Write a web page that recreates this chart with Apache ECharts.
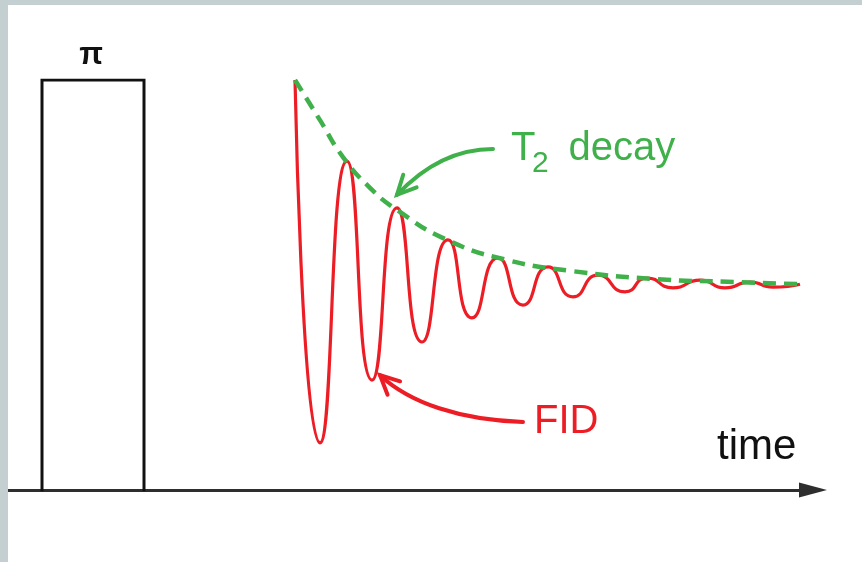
<!DOCTYPE html>
<html>
<head>
<meta charset="utf-8">
<script src="https://cdn.jsdelivr.net/npm/echarts@6/dist/echarts.min.js"></script>
<style>
  html, body { margin: 0; padding: 0; background: #c3cfd1; }
  #chart { position: absolute; left: 8px; top: 5px; width: 854px; height: 557px; background: #ffffff; }
</style>
</head>
<body>
<div id="chart"></div>
<script>
// Time in ms along the horizontal axis, signal normalised so the pulse height is 1.
const pulseTime = [0.68, 0.68, 2.72, 2.72];
const pulseLevel = [0, 1, 1, 0];

// FID trace: successive maxima and minima of the ringing signal.
const fidTime = [5.74, 6.24, 6.78, 7.28, 7.78, 8.28, 8.80, 9.28, 9.80, 10.30, 10.80,
                 11.30, 11.80, 12.34, 12.78, 13.30, 13.84, 14.34, 14.84, 15.30, 15.84];
const fidSignal = [1.0, 0.115, 0.802, 0.268, 0.688, 0.361, 0.610, 0.420, 0.566, 0.451, 0.544,
                   0.471, 0.524, 0.483, 0.517, 0.493, 0.512, 0.493, 0.507, 0.495, 0.502];

// T2 envelope over the FID peaks.
const decayTime = [5.74, 6.24, 6.70, 7.24, 7.78, 8.78, 9.98, 11.28, 12.88, 14.64, 15.84];
const decayEnvelope = [1.0, 0.902, 0.812, 0.737, 0.683, 0.610, 0.561, 0.534, 0.515, 0.507, 0.502];

const axisMax = 16.1;

const GREEN = '#3fb04a';
const RED = '#ec1d25';
const FONT = '"Liberation Sans", Arial, sans-serif';

const zip = (a, b) => a.map((v, i) => [v, b[i]]);

const chart = echarts.init(document.getElementById('chart'), null, { renderer: 'canvas' });

chart.setOption({
  animation: false,
  backgroundColor: '#ffffff',
  grid: { left: 0, right: 49, top: 75, bottom: 72, containLabel: false },
  xAxis: {
    type: 'value', min: 0, max: axisMax,
    axisLine: {
      show: true, onZero: true,
      symbol: ['none', 'triangle'], symbolSize: [15, 28],
      lineStyle: { color: '#2e2e2e', width: 3 }
    },
    axisTick: { show: false }, axisLabel: { show: false }, splitLine: { show: false }
  },
  yAxis: {
    type: 'value', min: 0, max: 1, show: false,
    splitLine: { show: false }
  },
  series: [
    {
      name: 'pulse', type: 'line', data: zip(pulseTime, pulseLevel),
      symbol: 'none', z: 3,
      lineStyle: { color: '#111111', width: 3, join: 'miter', cap: 'square' }
    },
    {
      name: 'FID', type: 'line', data: zip(fidTime, fidSignal),
      symbol: 'none', smooth: 0.6, z: 4,
      lineStyle: { color: RED, width: 3.2 }
    },
    {
      name: 'T2 decay', type: 'line', data: zip(decayTime, decayEnvelope),
      symbol: 'none', smooth: true, z: 5,
      lineStyle: { color: GREEN, width: 4.5, type: [13, 8] }
    }
  ]
});

// Annotation anchors in axis units (time, signal).
const labelPi = [1.66, 1.060];
const labelTime = [14.18, 0.103];
const labelFid = [10.52, 0.167];
const labelT = [10.06, 0.832];
const labelSub = [10.48, 0.795];
const labelDecay = [11.21, 0.832];

// Curved pointers: [start, control 1, control 2, tip]
const greenPointer = [[9.70, 0.832], [8.94, 0.832], [8.32, 0.790], [7.78, 0.720]];
const redPointer = [[10.30, 0.166], [9.04, 0.171], [8.04, 0.212], [7.44, 0.280]];

const px = p => chart.convertToPixel({ gridIndex: 0 }, p);

function pointer(pts, color) {
  const [s, c1, c2, t] = pts.map(px);
  const dx = c2[0] - t[0], dy = c2[1] - t[1];
  const len = Math.hypot(dx, dy);
  const ux = dx / len, uy = dy / len;
  const arm = 21, ang = 26 * Math.PI / 180;
  const rot = a => [t[0] + arm * (ux * Math.cos(a) - uy * Math.sin(a)),
                    t[1] + arm * (ux * Math.sin(a) + uy * Math.cos(a))];
  return [
    {
      type: 'bezierCurve', z: 10,
      shape: { x1: s[0], y1: s[1], cpx1: c1[0], cpy1: c1[1], cpx2: c2[0], cpy2: c2[1], x2: t[0], y2: t[1] },
      style: { stroke: color, lineWidth: 4, fill: null, lineCap: 'round' }
    },
    {
      type: 'polyline', z: 10,
      shape: { points: [rot(ang), t, rot(-ang)] },
      style: { stroke: color, lineWidth: 4, fill: null, lineCap: 'round', lineJoin: 'miter' }
    }
  ];
}

function text(anchor, str, size, color, align, weight) {
  const p = px(anchor);
  return {
    type: 'text', z: 12, x: p[0], y: p[1],
    style: {
      text: str, fill: color, fontSize: size, fontFamily: FONT,
      fontWeight: weight || 'normal',
      align: align || 'left', verticalAlign: 'middle'
    }
  };
}

chart.setOption({
  graphic: [
    ...pointer(greenPointer, GREEN),
    ...pointer(redPointer, RED),
    text(labelPi, 'π', 31, '#111111', 'center', 'bold'),
    text(labelTime, 'time', 42, '#111111'),
    text(labelFid, 'FID', 40, RED),
    text(labelT, 'T', 40, GREEN),
    text(labelSub, '2', 30, GREEN),
    text(labelDecay, 'decay', 40, GREEN)
  ]
});
</script>
</body>
</html>
